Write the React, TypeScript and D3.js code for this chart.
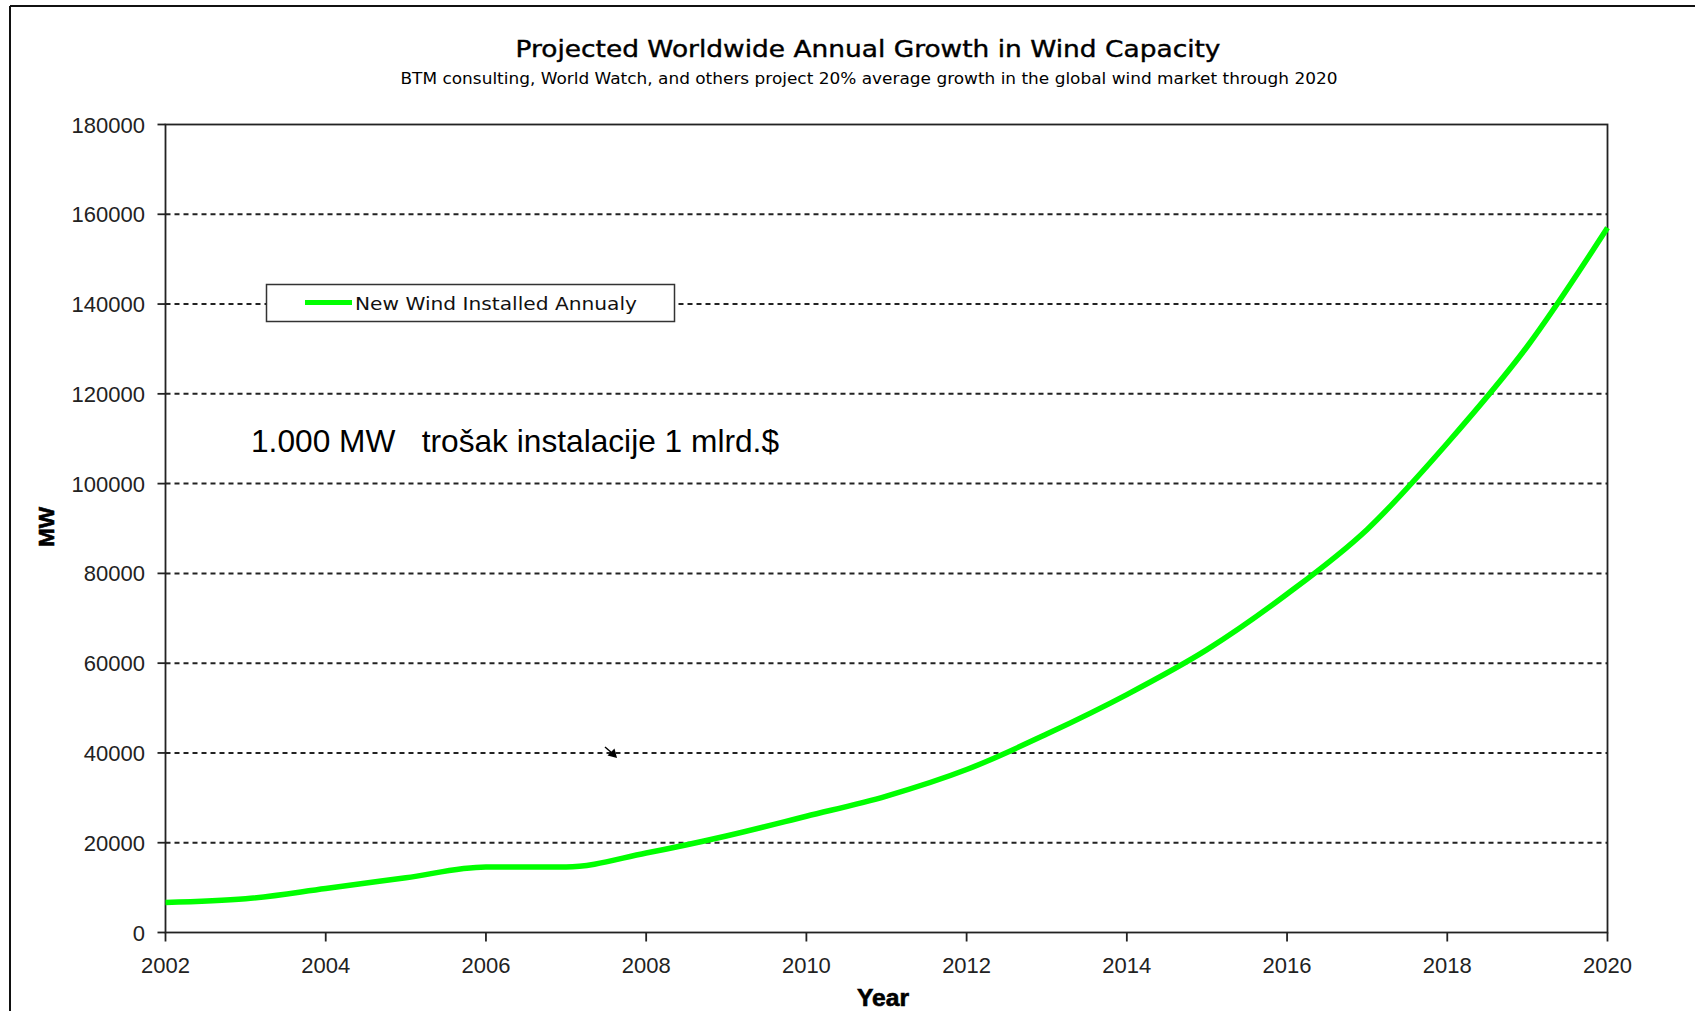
import React from "react";
import * as d3 from "d3";

// Annual new wind capacity installed worldwide (MW), projected through 2020
const years = [2002, 2003, 2004, 2005, 2006, 2007, 2008, 2009, 2010, 2011, 2012, 2013, 2014, 2015, 2016, 2017, 2018, 2019, 2020];
const newWindMW = [6700, 7500, 9800, 12200, 14600, 14600, 17700, 21500, 25900, 30400, 36300, 44200, 53000, 63000, 75400, 89800, 109000, 130600, 157000];

const yTicks = [0, 20000, 40000, 60000, 80000, 100000, 120000, 140000, 160000, 180000];
const xTicks = [2002, 2004, 2006, 2008, 2010, 2012, 2014, 2016, 2018, 2020];

const titleText = "Projected Worldwide Annual Growth in Wind Capacity";
const subtitleText = "BTM consulting, World Watch, and others project 20% average growth in the global wind market through 2020";
const legendLabel = "New Wind Installed Annualy";
const noteText = "1.000 MW   trošak instalacije 1 mlrd.$";

const W = 1708;
const H = 1011;
const plot = { left: 165.5, right: 1607.5, top: 124.5, bottom: 932.5 };

const sansFont = "'Liberation Sans', Arial, sans-serif";
const tahomaLike = "'DejaVu Sans', Verdana, sans-serif";

export default function App() {
  const x = d3.scaleLinear().domain([2002, 2020]).range([plot.left, plot.right]);
  const y = d3.scaleLinear().domain([0, 180000]).range([plot.bottom, plot.top]);

  const line = d3
    .line<number>()
    .x((_, i) => x(years[i]))
    .y((v) => y(v))
    .curve(d3.curveMonotoneX);

  const pathD = line(newWindMW) || "";

  return (
    <svg
      width={W}
      height={H}
      viewBox={`0 0 ${W} ${H}`}
      style={{ position: "absolute", left: 0, top: 0, background: "#fff" }}
    >
      <rect x={0} y={0} width={W} height={H} fill="#fff" />

      {/* outer chart border */}
      <line x1={10} y1={6} x2={1695} y2={6} stroke="#111" strokeWidth={2} />
      <line x1={10} y1={6} x2={10} y2={H} stroke="#111" strokeWidth={2} />

      {/* titles */}
      <text
        x={868}
        y={57}
        textAnchor="middle"
        fontFamily={tahomaLike}
        fontSize={23}
        fill="#000"
        stroke="#000"
        strokeWidth={0.4}
        textLength={705}
        lengthAdjust="spacingAndGlyphs"
      >
        {titleText}
      </text>
      <text
        x={869}
        y={84}
        textAnchor="middle"
        fontFamily={tahomaLike}
        fontSize={15.5}
        fill="#000"
        textLength={937}
        lengthAdjust="spacingAndGlyphs"
      >
        {subtitleText}
      </text>

      {/* horizontal dashed gridlines */}
      {yTicks
        .filter((t) => t > 0 && t < 180000)
        .map((t) => (
          <line
            key={`g${t}`}
            x1={plot.left}
            x2={plot.right}
            y1={y(t)}
            y2={y(t)}
            stroke="#222"
            strokeWidth={2}
            strokeDasharray="5 4"
          />
        ))}

      {/* plot frame */}
      <rect
        x={plot.left}
        y={plot.top}
        width={plot.right - plot.left}
        height={plot.bottom - plot.top}
        fill="none"
        stroke="#222"
        strokeWidth={1.8}
      />

      {/* y axis ticks and labels */}
      {yTicks.map((t) => (
        <g key={`y${t}`}>
          <line x1={plot.left - 8} x2={plot.left} y1={y(t)} y2={y(t)} stroke="#222" strokeWidth={1.8} />
          <text
            x={145}
            y={y(t) + 8}
            textAnchor="end"
            fontFamily={sansFont}
            fontSize={22}
            fill="#222"
          >
            {t}
          </text>
        </g>
      ))}

      {/* x axis ticks and labels */}
      {xTicks.map((t) => (
        <g key={`x${t}`}>
          <line x1={x(t)} x2={x(t)} y1={plot.bottom} y2={plot.bottom + 9} stroke="#222" strokeWidth={1.8} />
          <text
            x={x(t)}
            y={973}
            textAnchor="middle"
            fontFamily={sansFont}
            fontSize={22}
            fill="#222"
          >
            {t}
          </text>
        </g>
      ))}

      {/* axis titles */}
      <text
        x={883}
        y={1006}
        textAnchor="middle"
        fontFamily={sansFont}
        fontWeight="bold"
        fontSize={23}
        fill="#000"
        stroke="#000"
        strokeWidth={0.6}
        textLength={52}
        lengthAdjust="spacingAndGlyphs"
      >
        Year
      </text>
      <text
        transform="translate(54,527) rotate(-90)"
        textAnchor="middle"
        fontFamily={sansFont}
        fontWeight="bold"
        fontSize={22}
        fill="#000"
        stroke="#000"
        strokeWidth={0.6}
        textLength={40}
        lengthAdjust="spacingAndGlyphs"
      >
        MW
      </text>

      {/* series line */}
      <path d={pathD} fill="none" stroke="#00ff00" strokeWidth={5.5} strokeLinejoin="round" />

      {/* legend */}
      <rect x={266.5} y={284.5} width={408} height={37} fill="#fff" stroke="#333" strokeWidth={1.5} />
      <line x1={305} x2={352} y1={302.5} y2={302.5} stroke="#00ff00" strokeWidth={5} />
      <text
        x={355}
        y={309.5}
        fontFamily={tahomaLike}
        fontSize={18}
        fill="#111"
        textLength={282}
        lengthAdjust="spacingAndGlyphs"
      >
        {legendLabel}
      </text>

      {/* cost note */}
      <text
        x={251}
        y={451.5}
        fontFamily={sansFont}
        fontSize={31.7}
        fill="#000"
        style={{ whiteSpace: "pre" }}
        textLength={528}
        lengthAdjust="spacingAndGlyphs"
      >
        {noteText}
      </text>

      {/* small arrow annotation */}
      <line x1={605} y1={747} x2={612} y2={753} stroke="#000" strokeWidth={1.5} />
      <path d="M617,758 L607.5,755.5 L614.5,748.5 Z" fill="#000" />
    </svg>
  );
}
